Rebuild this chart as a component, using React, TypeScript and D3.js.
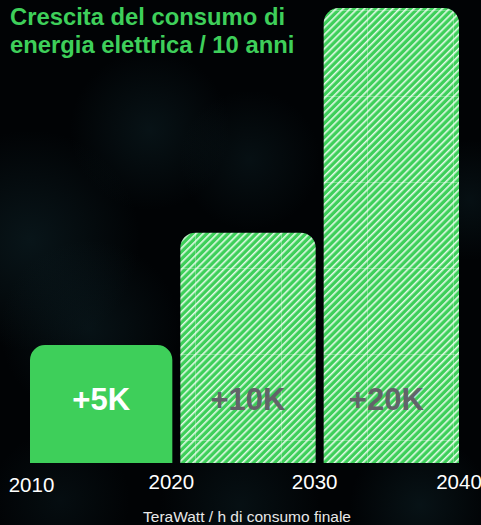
import React from "react";
import * as d3 from "d3";

const periods = ["2010-2020", "2020-2030", "2030-2040"];
const starts = [2010, 2020, 2030];
const ends = [2020, 2030, 2040];
const values = [5, 10, 20];
const valueLabels = ["+5K", "+10K", "+20K"];
const tickYears = [2010, 2020, 2030, 2040];
const titleLines = ["Crescita del consumo di", "energia elettrica / 10 anni"];
const footer = "TeraWatt / h di consumo finale";

const W = 481;
const H = 525;
const GREEN = "#3ecf5a";

export default function App() {
  const x = d3.scaleLinear().domain([2010, 2040]).range([30, 460]);
  const y = d3.scaleLinear().domain([-0.25, 20]).range([463, 8]);
  const baseY = y.range()[0];
  const r = 15;

  const barPath = (x0: number, x1: number, y0: number, y1: number) => {
    const p = d3.path();
    p.moveTo(x0, y1);
    p.lineTo(x0, y0 + r);
    p.arcTo(x0, y0, x0 + r, y0, r);
    p.lineTo(x1 - r, y0);
    p.arcTo(x1, y0, x1, y0 + r, r);
    p.lineTo(x1, y1);
    p.closePath();
    return p.toString();
  };

  const glows = [
    { cx: 30, cy: 240, rr: 110, o: 0.35 },
    { cx: 150, cy: 130, rr: 80, o: 0.3 },
    { cx: 250, cy: 160, rr: 70, o: 0.25 },
    { cx: 90, cy: 330, rr: 90, o: 0.3 },
    { cx: 470, cy: 200, rr: 60, o: 0.25 },
    { cx: 420, cy: 505, rr: 70, o: 0.3 },
    { cx: 240, cy: 505, rr: 80, o: 0.25 },
    { cx: 60, cy: 500, rr: 70, o: 0.2 },
  ];

  const seamsX = [109, 195, 281, 367, 453];
  const seamsY = [10, 96, 182, 268, 354, 440];

  const bars = periods.map((p, i) => {
    const x0 = x(starts[i]) + (i === 0 ? 0 : 7);
    const x1 = x(ends[i]) - 1;
    return { p, i, x0, x1, y0: y(values[i]), y1: baseY };
  });

  return (
    <svg
      width={W}
      height={H}
      style={{ position: "absolute", left: 0, top: 0, display: "block" }}
      fontFamily="'Liberation Sans', Arial, sans-serif"
    >
      <defs>
        <radialGradient id="glow">
          <stop offset="0%" stopColor="#16363e" stopOpacity={1} />
          <stop offset="100%" stopColor="#16363e" stopOpacity={0} />
        </radialGradient>
        <linearGradient id="stripeGrad" x1="0" x2="1" y1="0" y2="0">
          <stop offset="0%" stopColor={GREEN} />
          <stop offset="50%" stopColor={GREEN} />
          <stop offset="72%" stopColor="#f4fff6" />
          <stop offset="82%" stopColor="#f4fff6" />
          <stop offset="100%" stopColor={GREEN} />
        </linearGradient>
        <pattern
          id="hatch"
          patternUnits="userSpaceOnUse"
          width={5}
          height={5}
          patternTransform="rotate(45)"
        >
          <rect width={5} height={5} fill="url(#stripeGrad)" />
        </pattern>
        {bars.map((b) => (
          <clipPath id={`clip${b.i}`} key={b.p}>
            <path d={barPath(b.x0, b.x1, b.y0, b.y1)} />
          </clipPath>
        ))}
      </defs>
      <rect width={W} height={H} fill="#010305" />
      {glows.map((g, i) => (
        <circle key={i} cx={g.cx} cy={g.cy} r={g.rr} fill="url(#glow)" opacity={g.o} />
      ))}

      {titleLines.map((t, i) => (
        <text
          key={t}
          x={10}
          y={25 + i * 28}
          fill={GREEN}
          fontSize={23.8}
          fontWeight="bold"
        >
          {t}
        </text>
      ))}

      {bars.map((b) => (
        <g key={b.p}>
          <path d={barPath(b.x0, b.x1, b.y0, b.y1)} fill={b.i === 0 ? GREEN : "url(#hatch)"} />
          {b.i > 0 && (
            <g clipPath={`url(#clip${b.i})`} stroke="#ffffff" strokeOpacity={0.3} strokeWidth={1}>
              {seamsX.map((sx) => (
                <line key={`x${sx}`} x1={sx + 0.5} x2={sx + 0.5} y1={b.y0} y2={b.y1} />
              ))}
              {seamsY.map((sy) => (
                <line key={`y${sy}`} x1={b.x0} x2={b.x1} y1={sy + 0.5} y2={sy + 0.5} />
              ))}
            </g>
          )}
          <text
            x={(b.x0 + b.x1) / 2 - (b.i === 2 ? 5 : 0)}
            y={409.5}
            textAnchor="middle"
            fill={b.i === 0 ? "#ffffff" : "#636369"}
            fontSize={31}
            fontWeight="bold"
          >
            {valueLabels[b.i]}
          </text>
        </g>
      ))}

      {tickYears.map((t, i) => (
        <text
          key={t}
          x={i === tickYears.length - 1 ? 459 : x(t) + (i === 0 ? 1.5 : -2)}
          y={i === 0 ? 492 : 489}
          textAnchor="middle"
          fill="#ffffff"
          fontSize={20.5}
        >
          {t}
        </text>
      ))}

      <text x={247} y={522} textAnchor="middle" fill="#e8e8e8" fontSize={15.5}>
        {footer}
      </text>
    </svg>
  );
}
